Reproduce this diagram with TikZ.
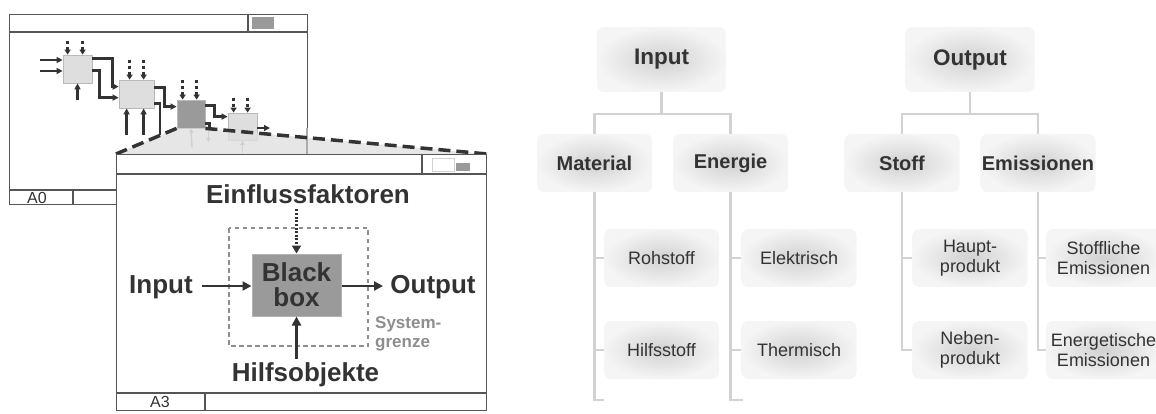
\documentclass[tikz,border=0pt]{standalone}
\usepackage{fontspec}
\setmainfont{Liberation Sans}
\usetikzlibrary{arrows.meta,calc}
\definecolor{dk}{HTML}{333333}
\definecolor{winc}{HTML}{555555}
\definecolor{tline}{HTML}{D2D2D2}
\definecolor{bbfill}{HTML}{9A9A9A}
\definecolor{pfill}{HTML}{DEDEDE}
\definecolor{sysg}{HTML}{8E8E8E}
\newcommand\myfs[2]{\fontsize{#1}{#2}\selectfont}
\tikzset{
  win/.style={draw=winc, line width=1.2pt, fill=white, inner sep=0pt, anchor=north west},
  wline/.style={draw=winc, line width=1.2pt},
  pbox/.style={draw=gray!55, line width=0.8pt, fill=pfill, inner sep=0pt},
  flow/.style={draw=dk, line width=2.5pt, -{Triangle[length=6pt,width=6pt]}},
  fline/.style={draw=dk, line width=2.5pt},
  dflow/.style={draw=dk, line width=2.5pt, dash pattern=on 3.5pt off 2.5pt, -{Triangle[length=5pt,width=6pt]}},
  faded/.style={draw=gray!75, line width=1.6pt, -{Triangle[length=4.5pt,width=4.5pt]}},
  zoomline/.style={draw=dk, line width=3.5pt, dash pattern=on 12pt off 6pt},
  bigarrow/.style={draw=dk, line width=2.8pt, -{Triangle[length=9pt,width=9pt]}},
  bigtxt/.style={font=\myfs{26}{25}\bfseries, text=dk, inner sep=0pt},
  small/.style={font=\myfs{16}{18}, text=dk, inner sep=0pt},
  tbox/.style={rounded corners=7pt, inner color=gray!36, outer color=gray!8, minimum width=115pt, minimum height=58pt, text=dk, align=center, inner sep=0pt},
  lone/.style={tbox, minimum width=129pt, minimum height=65pt, font=\myfs{22.5}{26}\bfseries},
  ltwo/.style={tbox, font=\myfs{20}{24}\bfseries},
  lthree/.style={tbox, font=\myfs{18}{19.5}},
  tl/.style={draw=tline, line width=2.5pt}
}
\begin{document}
\begin{tikzpicture}[x=1pt,y=-1pt]
\useasboundingbox (0,0) rectangle (1156,414);
\clip (0,0) rectangle (1156,414);

% ---------- A0 window ----------
\node[win, minimum width=298pt, minimum height=190pt] (w0) at (9,14) {};
\draw[wline] (9,32) -- (307,32);
\draw[wline] (248,14) -- (248,32);
\fill[bbfill] (252,17) rectangle (274,29);
\draw[wline] (9,190) -- (307,190);
\draw[wline] (73,190) -- (73,204);
\node[small] (a0) at (37,197.5) {A0};

% process boxes
\node[pbox, minimum width=29pt, minimum height=28pt] (b1) at (77.5,69) {};
\node[pbox, minimum width=35pt, minimum height=28pt] (b2) at (136.5,94) {};
\node[pbox, fill=bbfill, minimum width=28pt, minimum height=28pt] (b3) at (191,114) {};
\node[pbox, minimum width=29pt, minimum height=27pt] (b4) at (242.5,126.5) {};

% inputs box 1
\coordinate (i1) at (40,60);
\coordinate (i2) at (40,71);
\draw[flow] (i1) -- (i1 -| b1.west);
\draw[flow] (i2) -- (i2 -| b1.west);
% box1 -> box2
\draw[flow] ($(b1.north east)+(0,4)$) -| ($(b2.north west)+(-6,7)$) -- ($(b2.north west)+(0,7)$);
\draw[flow] ($(b1.north east)+(0,16)$) -| ($(b2.north west)+(-19,18)$) -- ($(b2.north west)+(0,18)$);
% box2 -> box3
\draw[flow] ($(b2.north east)+(0,8)$) -| ($(b3.north west)+(-12,7)$) -- ($(b3.north west)+(0,7)$);
\coordinate (o2b) at (160,135);
\draw[fline] ($(b2.north east)+(0,24)$) -| (o2b);
% box3 -> box4
\draw[flow] ($(b3.north east)+(0,6)$) -| ($(b4.north west)+(-13,4)$) -- ($(b4.north west)+(0,4)$);
\draw[fline] ($(b3.south east)+(0,-5)$) -| ($(b3.south east)+(4,1)$);
% box4 output
\coordinate (o4) at (270,128);
\draw[flow] (o4 -| b4.east) -- (o4);
% dashed controls
\foreach \b/\dx/\len in {b1/5/14, b1/20/14, b2/11/20, b2/25/20, b3/6/20, b3/20/20, b4/6/15, b4/20/15}{
  \draw[dflow] ($(\b.north west)+(\dx,-\len)$) -- ($(\b.north west)+(\dx,0)$);
}
% mechanisms
\draw[flow] ($(b1.south)+(0,17)$) -- (b1.south);
\draw[flow] ($(b2.south west)+(8,27)$) -- ($(b2.south west)+(8,0)$);
\draw[flow] ($(b2.south west)+(25,27)$) -- ($(b2.south west)+(25,0)$);
% faded arrows
\draw[faded] ($(b3.south)+(1,19)$) -- (b3.south);
\draw[faded] ($(b3.south east)+(3,1)$) -- ++(0,13);
\draw[faded] ($(b4.south)+(0,13)$) -- (b4.south);

% ---------- A3 window + zoom ----------
\node[win, minimum width=370pt, minimum height=256pt, draw=none, fill=none] (w3) at (116,154) {};
\fill[gray!24, fill opacity=0.78] (b3.south west) -- (b3.south east) -- (w3.north east) -- (w3.north west) -- cycle;
\draw[draw=gray!65, line width=1.2pt] (307,128) -- (307,154);
\draw[zoomline] (b3.south west) -- (w3.north west);
\draw[zoomline] (b3.south east) -- (w3.north east);
\node[win, minimum width=370pt, minimum height=256pt] (w3b) at (116,154) {};
\draw[wline] (116,174) -- (486,174);
\draw[wline] (422,154) -- (422,174);
\draw[draw=gray!35, line width=1pt] (432,159) rectangle (454,172);
\fill[bbfill] (456,163) rectangle (470,171);
\draw[wline] (116,393) -- (486,393);
\draw[wline] (205,393) -- (205,410);
\node[small] (a3) at (160,401.5) {A3};

% system boundary
\draw[draw=sysg, line width=1.5pt, dash pattern=on 4.5pt off 3.5pt] (229,228) rectangle (368,346);
\node[draw=gray!60, line width=1pt, fill=bbfill, minimum width=89pt, minimum height=62pt, bigtxt, align=center] (bb) at (296.5,285) {Black\\box};
\node[bigtxt, anchor=base] (einf) at (308,204) {Einflussfaktoren};
\node[bigtxt, anchor=base] (inp) at (161,293) {Input};
\node[bigtxt, anchor=base] (outp) at (433,293) {Output};
\node[bigtxt, anchor=base] (hilf) at (305.5,381) {Hilfsobjekte};
\node[font=\myfs{17}{19}\bfseries, text=sysg, inner sep=0pt, anchor=north west, align=left] (sg) at (375,316.5) {System-\\grenze};

\draw[draw=dk, line width=2.8pt, dash pattern=on 2pt off 1.6pt, -{Triangle[length=8pt,width=9pt]}] ($(bb.north)+(0,-44)$) -- (bb.north);
\draw[bigarrow] (202,286) -- (bb.west |- 0,286);
\draw[bigarrow] (bb.east |- 0,286) -- (383,286);
\draw[bigarrow] ($(bb.south)+(0,42)$) -- (bb.south);

% ---------- tree ----------
\node[lone] (tin) at (661.5,59.5) {Input};
\node[lone] (tout) at (970,59.5) {Output};
\node[ltwo] (mat) at (594.5,163) {Material};
\node[ltwo] (ene) at (730.5,163) {Energie};
\node[ltwo] (sto) at (902,163) {Stoff};
\node[ltwo] (emi) at (1038,163) {Emissionen};
\node[lthree] (roh) at (661.5,258) {Rohstoff};
\node[lthree] (hil) at (661.5,350) {Hilfsstoff};
\node[lthree] (ele) at (799,258) {Elektrisch};
\node[lthree] (the) at (799,350) {Thermisch};
\node[lthree] (hau) at (970,258) {Haupt-\\produkt};
\node[lthree] (neb) at (970,350) {Neben-\\produkt};
\node[lthree] (sem) at (1103.5,258) {Stoffliche\\Emissionen};
\node[lthree] (eem) at (1103.5,350) {Energetische\\Emissionen};

\draw[tl] (tin.south) -- (tin.south |- 0,114);
\draw[tl] (mat.north) -- (mat.north |- 0,114) -- (ene.north |- 0,114) -- (ene.north);
\draw[tl] (tout.south) -- (tout.south |- 0,114);
\draw[tl] (sto.north) -- (sto.north |- 0,114) -- (emi.north |- 0,114) -- (emi.north);

\draw[tl] (mat.south) -- (mat.south |- 0,400) -- ++(9,0);
\draw[tl] (mat.south |- roh.west) -- (roh.west);
\draw[tl] (mat.south |- hil.west) -- (hil.west);
\draw[tl] (ene.south) -- (ene.south |- 0,400) -- ++(12,0);
\draw[tl] (ene.south |- ele.west) -- (ele.west);
\draw[tl] (ene.south |- the.west) -- (the.west);
\draw[tl] (sto.south) |- (neb.west);
\draw[tl] (sto.south |- hau.west) -- (hau.west);
\draw[tl] (emi.south) |- (eem.west);
\draw[tl] (emi.south |- sem.west) -- (sem.west);
\end{tikzpicture}
\end{document}
